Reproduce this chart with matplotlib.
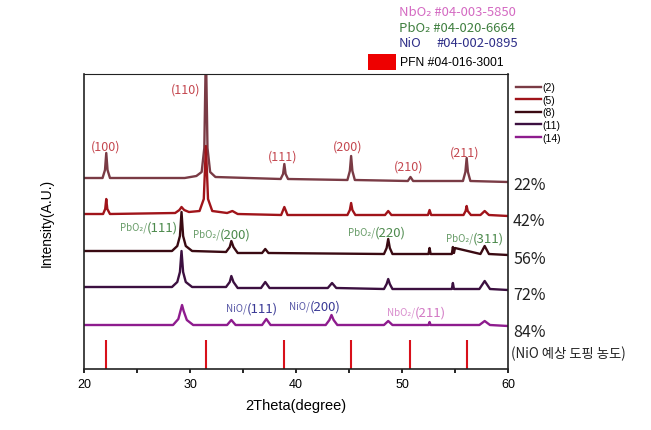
import numpy as np
import matplotlib
matplotlib.use("Agg")
from matplotlib import pyplot as plt
from matplotlib.patches import Rectangle
import matplotlib.transforms as mtransforms

plt.rcParams['font.family'] = ['Noto Sans CJK KR', 'DejaVu Sans']

# XRD patterns (vertices of each trace, intensity above its baseline)
two_theta_22 = [20.0, 21.75, 21.98, 22.1, 22.22, 22.45, 29.5, 30.6, 31.1, 31.35, 31.5, 31.65, 31.9, 32.4,
                38.55, 38.78, 38.9, 39.02, 39.25, 44.85, 45.08, 45.2, 45.32, 45.55, 50.55, 50.8, 51.05,
                55.75, 55.98, 56.1, 56.22, 56.45, 60.0]
int_22 = [0, 0, 8, 25, 8, 0, 0, 2, 6, 30, 130, 30, 6, 1,
          -1, 4, 14, 4, -1, -2, 7, 22, 7, -2, -3, 1, -3,
          -3, 6, 20, 6, -3, -4]

two_theta_42 = [20.0, 21.8, 22.0, 22.1, 22.2, 22.45, 28.6, 29.0, 29.2, 29.45, 29.9, 30.9, 31.3, 31.5, 31.7, 32.1,
                33.5, 34.0, 34.5, 38.6, 38.9, 39.2, 44.85, 45.08, 45.2, 45.32, 45.6, 48.4, 48.7, 49.0,
                52.45, 52.6, 52.75, 55.8, 56.0, 56.1, 56.2, 56.5, 57.4, 57.8, 58.2, 60.0]
int_42 = [0, 0, 5, 15, 5, 0, 1, 4, 7, 4, 2, 3, 15, 68, 15, 3,
          1, 3, 0, -1, 7, -1, -1, 4, 11, 4, -1, -1, 3, -1,
          -1, 4, -1, -1, 3, 8, 3, -1, -1, 3, -1, -2]

two_theta_56 = [20.0, 28.3, 28.8, 29.05, 29.2, 29.35, 29.6, 30.2, 33.4, 33.75, 33.9, 34.1, 34.5, 36.8, 37.1, 37.4,
                48.3, 48.55, 48.7, 48.85, 49.1, 52.5, 52.6, 52.7, 54.7, 54.8, 54.9, 55.0, 57.4, 57.8, 58.2, 60.0]
int_56 = [0, 0, 5, 15, 39, 15, 5, 0, -1, 4, 10, 4, -2, -2, 2, -2,
          -3, 3, 12, 3, -3, -3, 3, -3, -3, 4, -2, 3, -3, 5, -3, -4]

two_theta_72 = [20.0, 28.3, 28.8, 29.05, 29.2, 29.35, 29.6, 30.2, 33.4, 33.75, 33.9, 34.1, 34.5, 36.7, 37.1, 37.5,
                43.0, 43.4, 43.8, 48.3, 48.55, 48.7, 48.85, 49.1, 54.7, 54.8, 54.9, 57.3, 57.8, 58.3, 60.0]
int_72 = [0, 0, 5, 15, 36, 15, 5, 0, 0, 5, 11, 5, -1, -1, 5, -1,
          -1, 4, -1, -2, 3, 8, 3, -2, -2, 4, -2, -2, 6, -2, -3]

two_theta_84 = [20.0, 28.4, 28.9, 29.1, 29.25, 29.4, 29.7, 30.3, 33.5, 33.9, 34.3, 36.8, 37.2, 37.6,
                42.8, 43.15, 43.35, 43.55, 43.9, 48.3, 48.7, 49.1, 52.5, 52.6, 52.7, 57.3, 57.8, 58.3, 60.0]
int_84 = [0, 0, 6, 14, 20, 14, 5, 0, 0, 5, 0, 0, 6, 0,
          0, 5, 10, 5, 0, 0, 4, 0, 0, 3, 0, 0, 4, 0, -1]

traces = [(two_theta_22, int_22), (two_theta_42, int_42), (two_theta_56, int_56),
          (two_theta_72, int_72), (two_theta_84, int_84)]
offsets = [191, 155, 118, 82, 44]
colors = ['#7a3b45', '#a0141a', '#3a0a12', '#3c1040', '#8e1c8e']
legend_labels = ['(2)', '(5)', '(8)', '(11)', '(14)']
pct_labels = ['22%', '42%', '56%', '72%', '84%']

# PFN reference (#04-016-3001)
pfn_peaks = [22.1, 31.5, 38.9, 45.2, 50.8, 56.1]
pfn_height = 29

# Miller index labels on the 22% pattern
pfn_hkl = ['(100)', '(110)', '(111)', '(200)', '(210)', '(211)']
pfn_hkl_x = [22.0, 29.6, 38.7, 44.9, 50.6, 55.9]
pfn_hkl_y = [223, 280, 213, 223, 203, 217]

# secondary phase labels: (prefix, index, split x, y, colour)
phase_labels = [
    ('PbO\u2082/', '(111)', 25.95, 142, '#4d8a4d'),
    ('PbO\u2082/', '(200)', 32.8, 135, '#4d8a4d'),
    ('PbO\u2082/', '(220)', 47.45, 137, '#4d8a4d'),
    ('PbO\u2082/', '(311)', 56.7, 131, '#4d8a4d'),
    ('NiO/', '(111)', 35.35, 61, '#3a3a96'),
    ('NiO/', '(200)', 41.3, 63, '#3a3a96'),
    ('NbO\u2082/', '(211)', 51.2, 57, '#d278c4'),
]

fig = plt.figure(figsize=(6.51, 4.31), dpi=100)
ax = fig.add_axes([84 / 651, 1 - 370 / 431, 424 / 651, 295 / 431])

lines = []
for (tt, it), off, c, lab in zip(traces, offsets, colors, legend_labels):
    ln, = ax.plot(tt, np.array(it) + off, color=c, lw=1.7, label=lab, clip_on=True)
    lines.append(ln)

ax.vlines(pfn_peaks, 0, pfn_height, color='#d8101a', lw=1.5)

for lab, x, y in zip(pfn_hkl, pfn_hkl_x, pfn_hkl_y):
    ax.text(x, y, lab, color='#c4474f', fontsize=9, ha='center', va='center')

for pre, idx, x, y, c in phase_labels:
    ax.text(x, y, pre, color=c, fontsize=7, ha='right', va='center', alpha=0.85)
    ax.text(x, y, idx, color=c, fontsize=9.5, ha='left', va='center')

trans = mtransforms.blended_transform_factory(ax.transAxes, ax.transData)
for lab, off in zip(pct_labels, offsets):
    ax.text(1.012, off - 7, lab, transform=trans, fontsize=11.5, ha='left', va='center', color='#222222')
ax.text(1.008, 16, '(NiO 예상 도핑 농도)', transform=trans, fontsize=9.6, ha='left', va='center',
        color='#222222')

ax.set_xlim(20, 60)
ax.set_ylim(0, 295)
ax.set_yticks([])
ax.set_xticks([20, 30, 40, 50, 60])
ax.set_xticks([25, 35, 45, 55], minor=True)
ax.tick_params(axis='x', direction='out', length=3, width=1.2, labelsize=9)
ax.tick_params(axis='x', which='minor', direction='out', length=3, width=1.2)
for lbl in ax.get_xticklabels():
    lbl.set_family(['Liberation Sans', 'DejaVu Sans'])
for sp in ax.spines.values():
    sp.set_linewidth(1.2)
    sp.set_color('#222222')
ax.spines['top'].set_linewidth(0.8)

ax.set_xlabel('2Theta(degree)', fontsize=10.5, family=['Liberation Sans', 'DejaVu Sans'], labelpad=6)
ax.set_ylabel('Intensity(A.U.)', fontsize=10, family=['Liberation Sans', 'DejaVu Sans'], labelpad=22)

# right-hand line legend
ax.legend(handles=lines, loc='upper left', bbox_to_anchor=(509 / 651, 1 - 76 / 431),
          bbox_transform=fig.transFigure, frameon=False, handlelength=2.4,
          handletextpad=0.1, labelspacing=0.25, borderpad=0.2,
          prop={'family': ['Liberation Sans', 'DejaVu Sans'], 'size': 7.5})

# top database legend
fig.text(399 / 651, 1 - 13 / 431, 'NbO\u2082 #04-003-5850', color='#d46ac2', fontsize=9.4, va='center')
fig.text(399 / 651, 1 - 29 / 431, 'PbO\u2082 #04-020-6664', color='#3f7f3f', fontsize=9.4, va='center')
fig.text(399 / 651, 1 - 44 / 431, 'NiO', color='#2e2e88', fontsize=9.4, va='center')
fig.text(436 / 651, 1 - 44 / 431, '#04-002-0895', color='#2e2e88', fontsize=9.4, va='center')
fig.patches.append(Rectangle((368 / 651, 1 - 71 / 431), 28 / 651, 16 / 431, transform=fig.transFigure,
                             facecolor='#ee0000', edgecolor='none'))
fig.text(400 / 651, 1 - 63 / 431, 'PFN #04-016-3001', color='black', fontsize=8.7, va='center',
         family=['Liberation Sans', 'DejaVu Sans'])

fig.savefig('out.png', dpi=100)
